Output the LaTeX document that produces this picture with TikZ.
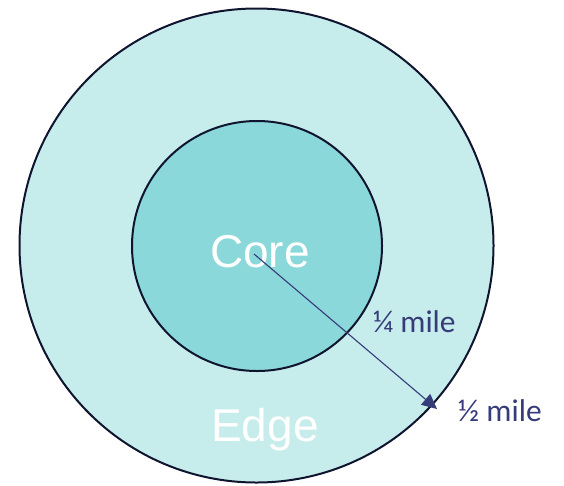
\documentclass[tikz,border=0pt]{standalone}
\usepackage{fontspec}
\setmainfont{Liberation Sans}
\newfontfamily\labelfont{Carlito}
\usetikzlibrary{arrows.meta}
\definecolor{outerfill}{HTML}{C6EDEC}
\definecolor{innerfill}{HTML}{8AD8D9}
\definecolor{ringline}{HTML}{10152F}
\definecolor{navy}{HTML}{363B7A}
\tikzset{
  ring/.style={circle, draw=ringline, line width=2pt, inner sep=0pt},
  zonetext/.style={text=white, font=\fontsize{46}{50}\selectfont, inner sep=0pt},
  dist/.style={text=navy, font=\labelfont\fontsize{31.5}{36}\selectfont, inner sep=0pt},
  radius arrow/.style={draw=navy, line width=1.1pt, -{Triangle[length=15pt,width=14pt]}}
}
\begin{document}
\begin{tikzpicture}[x=1pt,y=-1pt]
\useasboundingbox (0,0) rectangle (564,485);
\node[ring, fill=outerfill, minimum size=474pt] (outer) at (256.5,245.5) {};
\node[ring, fill=innerfill, minimum size=250pt] (inner) at (257,246) {};
\node[zonetext, anchor=base] (core) at (260,267) {Core};
\node[zonetext, anchor=base] (edge) at (265,441) {Edge};
\coordinate (start) at (254,254);
\coordinate (tip) at (437,409);
\draw[radius arrow] (start) -- (tip);
\node[dist, anchor=base west] (quarter) at (373,332) {¼ mile};
\node[dist, anchor=base west] (half) at (458,421) {½ mile};
\end{tikzpicture}
\end{document}
